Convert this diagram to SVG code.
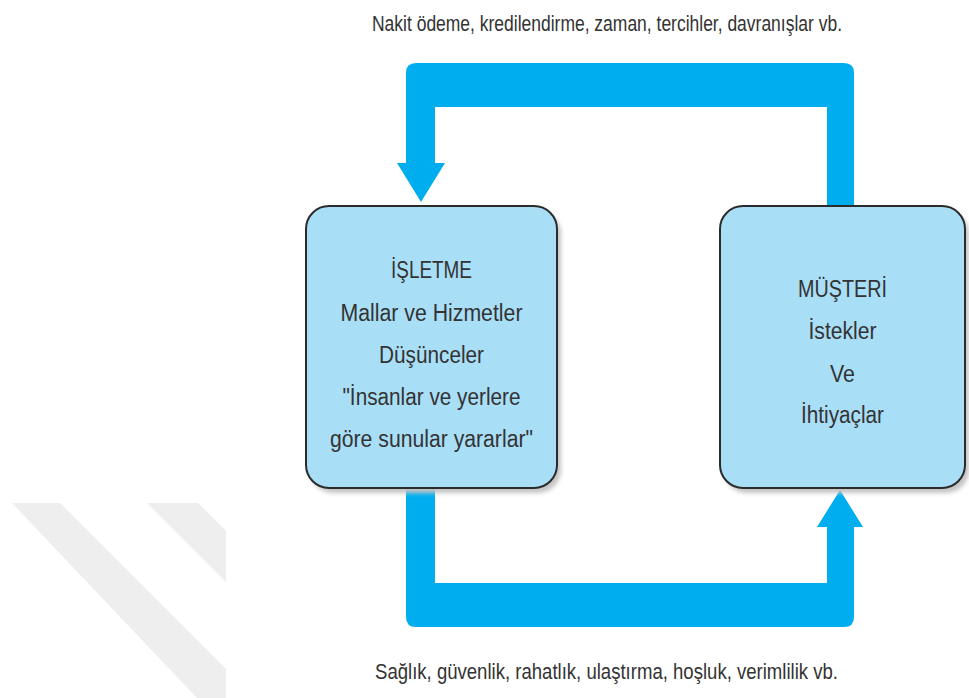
<svg xmlns="http://www.w3.org/2000/svg" width="969" height="698" viewBox="0 0 969 698">
<defs>
<filter id="sh" x="-10%" y="-10%" width="130%" height="130%"><feGaussianBlur stdDeviation="2"/></filter>
<style>
.box{fill:#A9DEF7;stroke:#2b2b2b;stroke-width:2}
.shadow{fill:#c4c4c4;filter:url(#sh)}
.flow{fill:#00AEEF}
.wm{fill:#EEEEEE}
text{font-family:"Liberation Sans Narrow","Liberation Sans",Arial,sans-serif;font-size:23px;fill:#333;text-anchor:middle}
.lab{text-anchor:start;font-size:22px}
</style>
</defs>
<rect width="969" height="698" fill="#ffffff"/>
<g id="watermark">
<polygon class="wm" points="12,503 60,503 226,669 226,698 197,698"/>
<polygon class="wm" points="147,503 198,503 226,531 226,582"/>
</g>
<g id="connectors">
<path class="flow" d="M854,206 L854,73 Q854,63 844,63 L416,63 Q406,63 406,73 L406,163 L397,163 L421,202 L445,163 L435,163 L435,107 L827,107 L827,206 Z"/>
<path class="flow" d="M406,488 L406,617 Q406,627 416,627 L844,627 Q854,627 854,617 L854,527 L863,527 L840,490 L817,527 L827,527 L827,583 L435,583 L435,488 Z"/>
</g>
<g id="isletme">
<rect class="shadow" x="310" y="211" width="251" height="282" rx="23"/>
<rect class="box" x="306" y="206" width="251" height="282" rx="23"/>
<text x="431.5" y="278" textLength="81" lengthAdjust="spacingAndGlyphs">İŞLETME</text>
<text x="431.5" y="321" textLength="182" lengthAdjust="spacingAndGlyphs">Mallar ve Hizmetler</text>
<text x="431.5" y="363" textLength="105" lengthAdjust="spacingAndGlyphs">Düşünceler</text>
<text x="431.5" y="405" textLength="178" lengthAdjust="spacingAndGlyphs">"İnsanlar ve yerlere</text>
<text x="431.5" y="447" textLength="203" lengthAdjust="spacingAndGlyphs">göre sunular yararlar"</text>
</g>
<g id="musteri">
<rect class="shadow" x="724" y="211" width="245" height="282" rx="23"/>
<rect class="box" x="720" y="206" width="245" height="282" rx="23"/>
<text x="842.5" y="297" textLength="89" lengthAdjust="spacingAndGlyphs">MÜŞTERİ</text>
<text x="842.5" y="339" textLength="68" lengthAdjust="spacingAndGlyphs">İstekler</text>
<text x="842.5" y="382" textLength="25" lengthAdjust="spacingAndGlyphs">Ve</text>
<text x="842.5" y="423" textLength="83" lengthAdjust="spacingAndGlyphs">İhtiyaçlar</text>
</g>
<g id="labels">
<text class="lab" x="372" y="31" textLength="470" lengthAdjust="spacingAndGlyphs">Nakit ödeme, kredilendirme, zaman, tercihler, davranışlar vb.</text>
<text class="lab" x="375" y="679" textLength="463" lengthAdjust="spacingAndGlyphs">Sağlık, güvenlik, rahatlık, ulaştırma, hoşluk, verimlilik vb.</text>
</g>
</svg>
